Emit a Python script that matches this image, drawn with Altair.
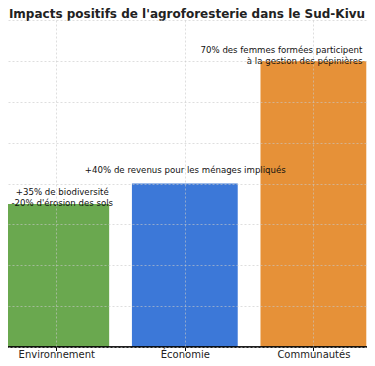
import altair as alt
import pandas as pd

title_text = "Impacts positifs de l'agroforesterie dans le Sud-Kivu"
categories = ["Environnement", "Économie", "Communautés"]
positions = [0, 1, 2]
values = [35, 40, 70]
colors = ["#6aa84f", "#3c78d8", "#e69138"]
annotations = [
    "+35% de biodiversité\n-20% d'érosion des sols",
    "+40% de revenus pour les ménages impliqués",
    "70% des femmes formées participent\nà la gestion des pépinières",
]
y_ticks = [0, 10, 20, 30, 40, 50, 60, 70, 80]

df = pd.DataFrame({"cat": categories, "pos": positions, "val": values, "note": annotations})
title_df = pd.DataFrame({"t": [title_text]})

FONT = "DejaVu Sans"
W, H = 359, 327
label_expr = "[" + ",".join("'" + c + "'" for c in categories) + "][datum.value]"

x_enc = alt.X(
    "pos:Q",
    scale=alt.Scale(domain=[-0.3365, 2.3781], nice=False, zero=False),
    axis=alt.Axis(
        title=None, values=positions, labelExpr=label_expr, labelAngle=0,
        labelFontSize=10, labelFont=FONT, labelColor="#222222",
        tickColor="#000000", tickSize=3.5, labelPadding=-1.5, domain=False,
        grid=True, gridColor="#c8c8c8", gridDash=[2, 2], gridOpacity=0.6,
        zindex=1, labelFlush=False, labelOverlap=False,
    ),
)
y_enc = alt.Y(
    "val:Q",
    scale=alt.Scale(domain=[0, 80], nice=False),
    axis=alt.Axis(
        title=None, labels=False, ticks=False, domain=False, values=y_ticks,
        grid=True, gridColor="#c8c8c8", gridDash=[2, 2], gridOpacity=0.6, zindex=1,
    ),
)

base = alt.Chart(df)

bars = base.mark_bar(size=105.8).encode(
    x=x_enc,
    y=y_enc,
    color=alt.Color("cat:N", scale=alt.Scale(domain=categories, range=colors), legend=None),
)

txt_kw = dict(font=FONT, fontSize=8.6, lineBreak="\n", lineHeight=11, baseline="bottom", color="#111111")

t_env = base.transform_filter(alt.datum.cat == categories[0]).mark_text(
    align="center", dx=6, dy=-6.5, **txt_kw
).encode(x="pos:Q", y="val:Q", text="note:N")
t_eco = base.transform_filter(alt.datum.cat == categories[1]).mark_text(
    align="center", dy=-8.5, dx=0.5, **txt_kw
).encode(x="pos:Q", y="val:Q", text="note:N")
t_com = base.transform_filter(alt.datum.cat == categories[2]).mark_text(
    align="right", dx=49, dy=-5.5, **txt_kw
).encode(x="pos:Q", y="val:Q", text="note:N")

baseline_rule = base.mark_rule(color="#000000", strokeWidth=1).encode(y=alt.datum(0))

title_mark = alt.Chart(title_df).mark_text(
    font=FONT, fontSize=12, fontWeight="bold", color="#222222",
    align="center", baseline="alphabetic",
).encode(x=alt.value(179), y=alt.value(-2.5), text="t:N")

chart = alt.layer(bars, baseline_rule, t_env, t_eco, t_com, title_mark).properties(
    width=W,
    height=H,
    autosize=alt.AutoSizeParams(type="none"),
    padding={"left": 0, "top": 12, "right": 0, "bottom": 11},
).configure_view(stroke=None)

chart.save("out.html", embed_options={"renderer": "svg", "actions": False})
